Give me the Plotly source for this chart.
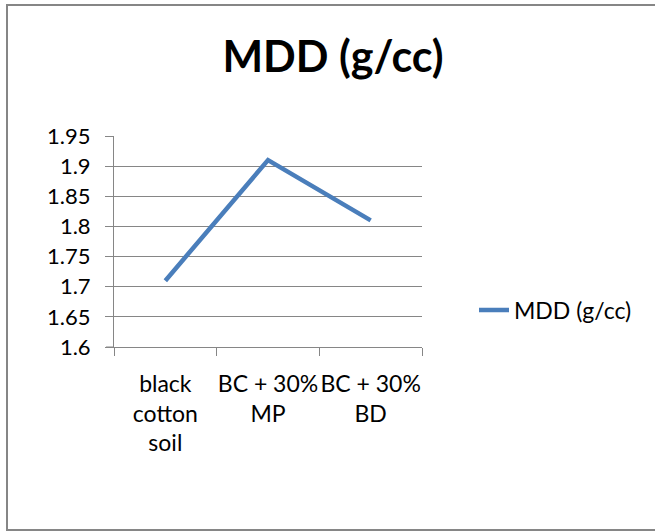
import plotly.graph_objects as go

categories = ["black<br>cotton<br>soil", "BC + 30%<br>MP", "BC + 30%<br>BD"]
mdd_values = [1.71, 1.91, 1.81]
y_ticks = [1.6, 1.65, 1.7, 1.75, 1.8, 1.85, 1.9, 1.95]
y_ticktext = ["1.6", "1.65", "1.7", "1.75", "1.8", "1.85", "1.9", "1.95"]
series_name = "MDD (g/cc)"
title_text = "MDD (g/cc)"

W, H = 655, 531
L, R, T, B = 114, 422, 136, 347
pw, ph = R - L, B - T

def px(x):
    return (x - L) / pw

def py(y):
    return (B - y) / ph

grid = "#868686"
font = "Lato"

fig = go.Figure()
fig.add_trace(go.Scatter(
    x=list(range(len(categories))), y=mdd_values, mode="lines", name=series_name,
    line=dict(color="#4A7EBB", width=4.5),
))

fig.update_layout(
    width=W, height=H,
    margin=dict(l=L, r=W - R, t=T, b=H - B, pad=0),
    paper_bgcolor="white", plot_bgcolor="white",
    font=dict(family=font, size=23, color="#000000"),
    title=dict(text="<b>" + title_text + "</b>", x=px(333), xref="paper", xanchor="center",
               y=1 - 57 / H, yanchor="middle", font=dict(size=43, family=font, color="#000000")),
    showlegend=True,
    legend=dict(x=px(474), y=py(310), xanchor="left", yanchor="middle",
                font=dict(size=23, family=font), bgcolor="rgba(0,0,0,0)",
                itemwidth=30, tracegroupgap=0),
    xaxis=dict(
        type="linear", range=[-0.5, 2.5], tickmode="array",
        tickvals=list(range(len(categories))), ticktext=categories,
        showgrid=False, zeroline=False, showline=True, linecolor=grid, linewidth=1,
        ticks="", tickfont=dict(size=23, family=font),
        ticklabelstandoff=16,
        minor=dict(tickmode="array", tickvals=[-0.5, 0.5, 1.5, 2.5], ticks="outside",
                   ticklen=8, tickcolor=grid, tickwidth=1, showgrid=False),
    ),
    yaxis=dict(
        range=[1.6, 1.95], tickmode="array", tickvals=y_ticks, ticktext=y_ticktext,
        showgrid=True, gridcolor=grid, gridwidth=1, zeroline=False,
        showline=True, linecolor=grid, linewidth=1,
        ticks="outside", ticklen=8, tickcolor=grid, tickwidth=1,
        tickfont=dict(size=22, family=font), ticklabelstandoff=10,
    ),
    shapes=[
        dict(type="rect", xref="paper", yref="paper",
             x0=px(7), x1=px(662), y0=py(530), y1=py(5),
             line=dict(color="#868686", width=2), fillcolor="rgba(0,0,0,0)", layer="below"),
        dict(type="line", xref="paper", yref="paper", x0=px(106), x1=px(L), y0=0, y1=0,
             line=dict(color=grid, width=1)),
    ],
)

fig.write_html("out.html")
